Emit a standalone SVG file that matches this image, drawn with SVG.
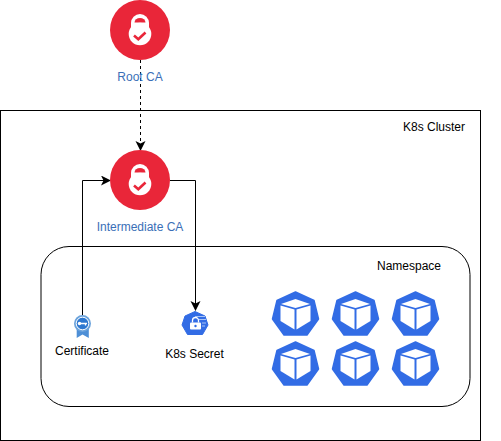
<svg xmlns="http://www.w3.org/2000/svg" width="501" height="441" viewBox="0 0 501 441">
<style>
text{font-family:"Liberation Sans",Arial,sans-serif;font-size:12px;text-anchor:middle;fill:#000}
.blue{fill:#3a6fb7}
.box{fill:#fff;stroke:#000;stroke-width:1}
.line{fill:none;stroke:#000;stroke-width:1}
.red{fill:#e92639}
</style>
<defs>
<marker id="arr" markerUnits="userSpaceOnUse" markerWidth="11" markerHeight="11" refX="9" refY="5" orient="auto">
<path d="M0 0L10 5L0 10L2.500 5Z" fill="#000"/>
</marker>
<g id="lock">
<circle r="30" class="red"/>
<path d="M-9 4V-7A9 9 0 0 1 9 -7V4Z" fill="#fff"/>
<path d="M-5.500 -7.500A5.500 4.500 0 0 1 5.500 -7.500Z" class="red"/>
<circle cy="4" r="11.300" fill="#fff"/>
<path d="M-6 5.500L-1.700 9.300L5.500 2.500" fill="none" stroke="#e92639" stroke-width="2.600"/>
</g>
<g id="pod">
<path d="M0 -24L18.500 -15.500L23 3L11.500 19H-11.500L-23 3L-18.500 -15.500Z" fill="#326ce5" stroke="#326ce5" stroke-width="1.500" stroke-linejoin="round"/>
<path d="M0 -17L14.500 -12L0 -8L-14.500 -12Z" fill="#fff"/>
<path d="M-15 -10.500L-1 -6.500V13.500L-15 5Z" fill="#fff"/>
<path d="M15 -10.500L1 -6.500V13.500L15 5Z" fill="#fff"/>
</g>
</defs>
<rect x="0.500" y="110.500" width="480" height="330" class="box"/>
<rect x="41" y="246.500" width="429" height="160" rx="28" class="box"/>
<text x="434" y="131" id="cluster-label">K8s Cluster</text>
<text x="409" y="270" id="namespace-label">Namespace</text>
<g id="connectors">
<path class="line" d="M140.500 60V150" stroke-dasharray="3 3" marker-end="url(#arr)"/>
<path class="line" d="M82.500 317V180.500H110" marker-end="url(#arr)"/>
<path class="line" d="M170 180.500H195.500V310" marker-end="url(#arr)"/>
</g>
<g id="root-ca">
<use href="#lock" x="140" y="30"/>
<text class="blue" x="140" y="81">Root CA</text>
</g>
<g id="intermediate-ca">
<use href="#lock" x="140" y="180"/>
<text class="blue" x="140" y="231">Intermediate CA</text>
</g>
<g id="certificate">
<path d="M76.700 328V338L82.500 334.500L88.800 338V328Z" fill="#4e8fd6"/>
<circle cx="82.500" cy="323.500" r="8.500" fill="#6ba3dc"/>
<circle cx="82.500" cy="323.500" r="6.300" fill="#2e78d0" stroke="#fff" stroke-width="1"/>
<path d="M79 323.500H87M85.500 323.500V325.500" stroke="#fff" stroke-width="1.300" fill="none"/>
<circle cx="79.500" cy="323.500" r="1.700" fill="#fff"/>
<text x="82" y="355">Certificate</text>
</g>
<g id="k8s-secret">
<path d="M195 311.500L205 316L208 325L202.500 334.500H187.500L182 325L185 316Z" fill="#326ce5" stroke="#326ce5" stroke-linejoin="round"/>
<rect x="190" y="322.500" width="11" height="7" rx="1" fill="#fff"/>
<path d="M192.500 322.500V320.500A3 3 0 0 1 198.500 320.500V322.500" fill="none" stroke="#fff" stroke-width="1.300"/>
<circle cx="195.500" cy="326" r="1.200" fill="#326ce5"/>
<path d="M195 316.500H205M199 319.500H206M202 323H206M202 326H205" stroke="#a9c4f5" stroke-width="1" fill="none"/>
<text x="194.500" y="358">K8s Secret</text>
</g>
<g id="pod-1"><use href="#pod" x="295.500" y="316"/></g>
<g id="pod-2"><use href="#pod" x="355.500" y="316"/></g>
<g id="pod-3"><use href="#pod" x="415.500" y="316"/></g>
<g id="pod-4"><use href="#pod" x="295.500" y="366"/></g>
<g id="pod-5"><use href="#pod" x="355.500" y="366"/></g>
<g id="pod-6"><use href="#pod" x="415.500" y="366"/></g>
</svg>
